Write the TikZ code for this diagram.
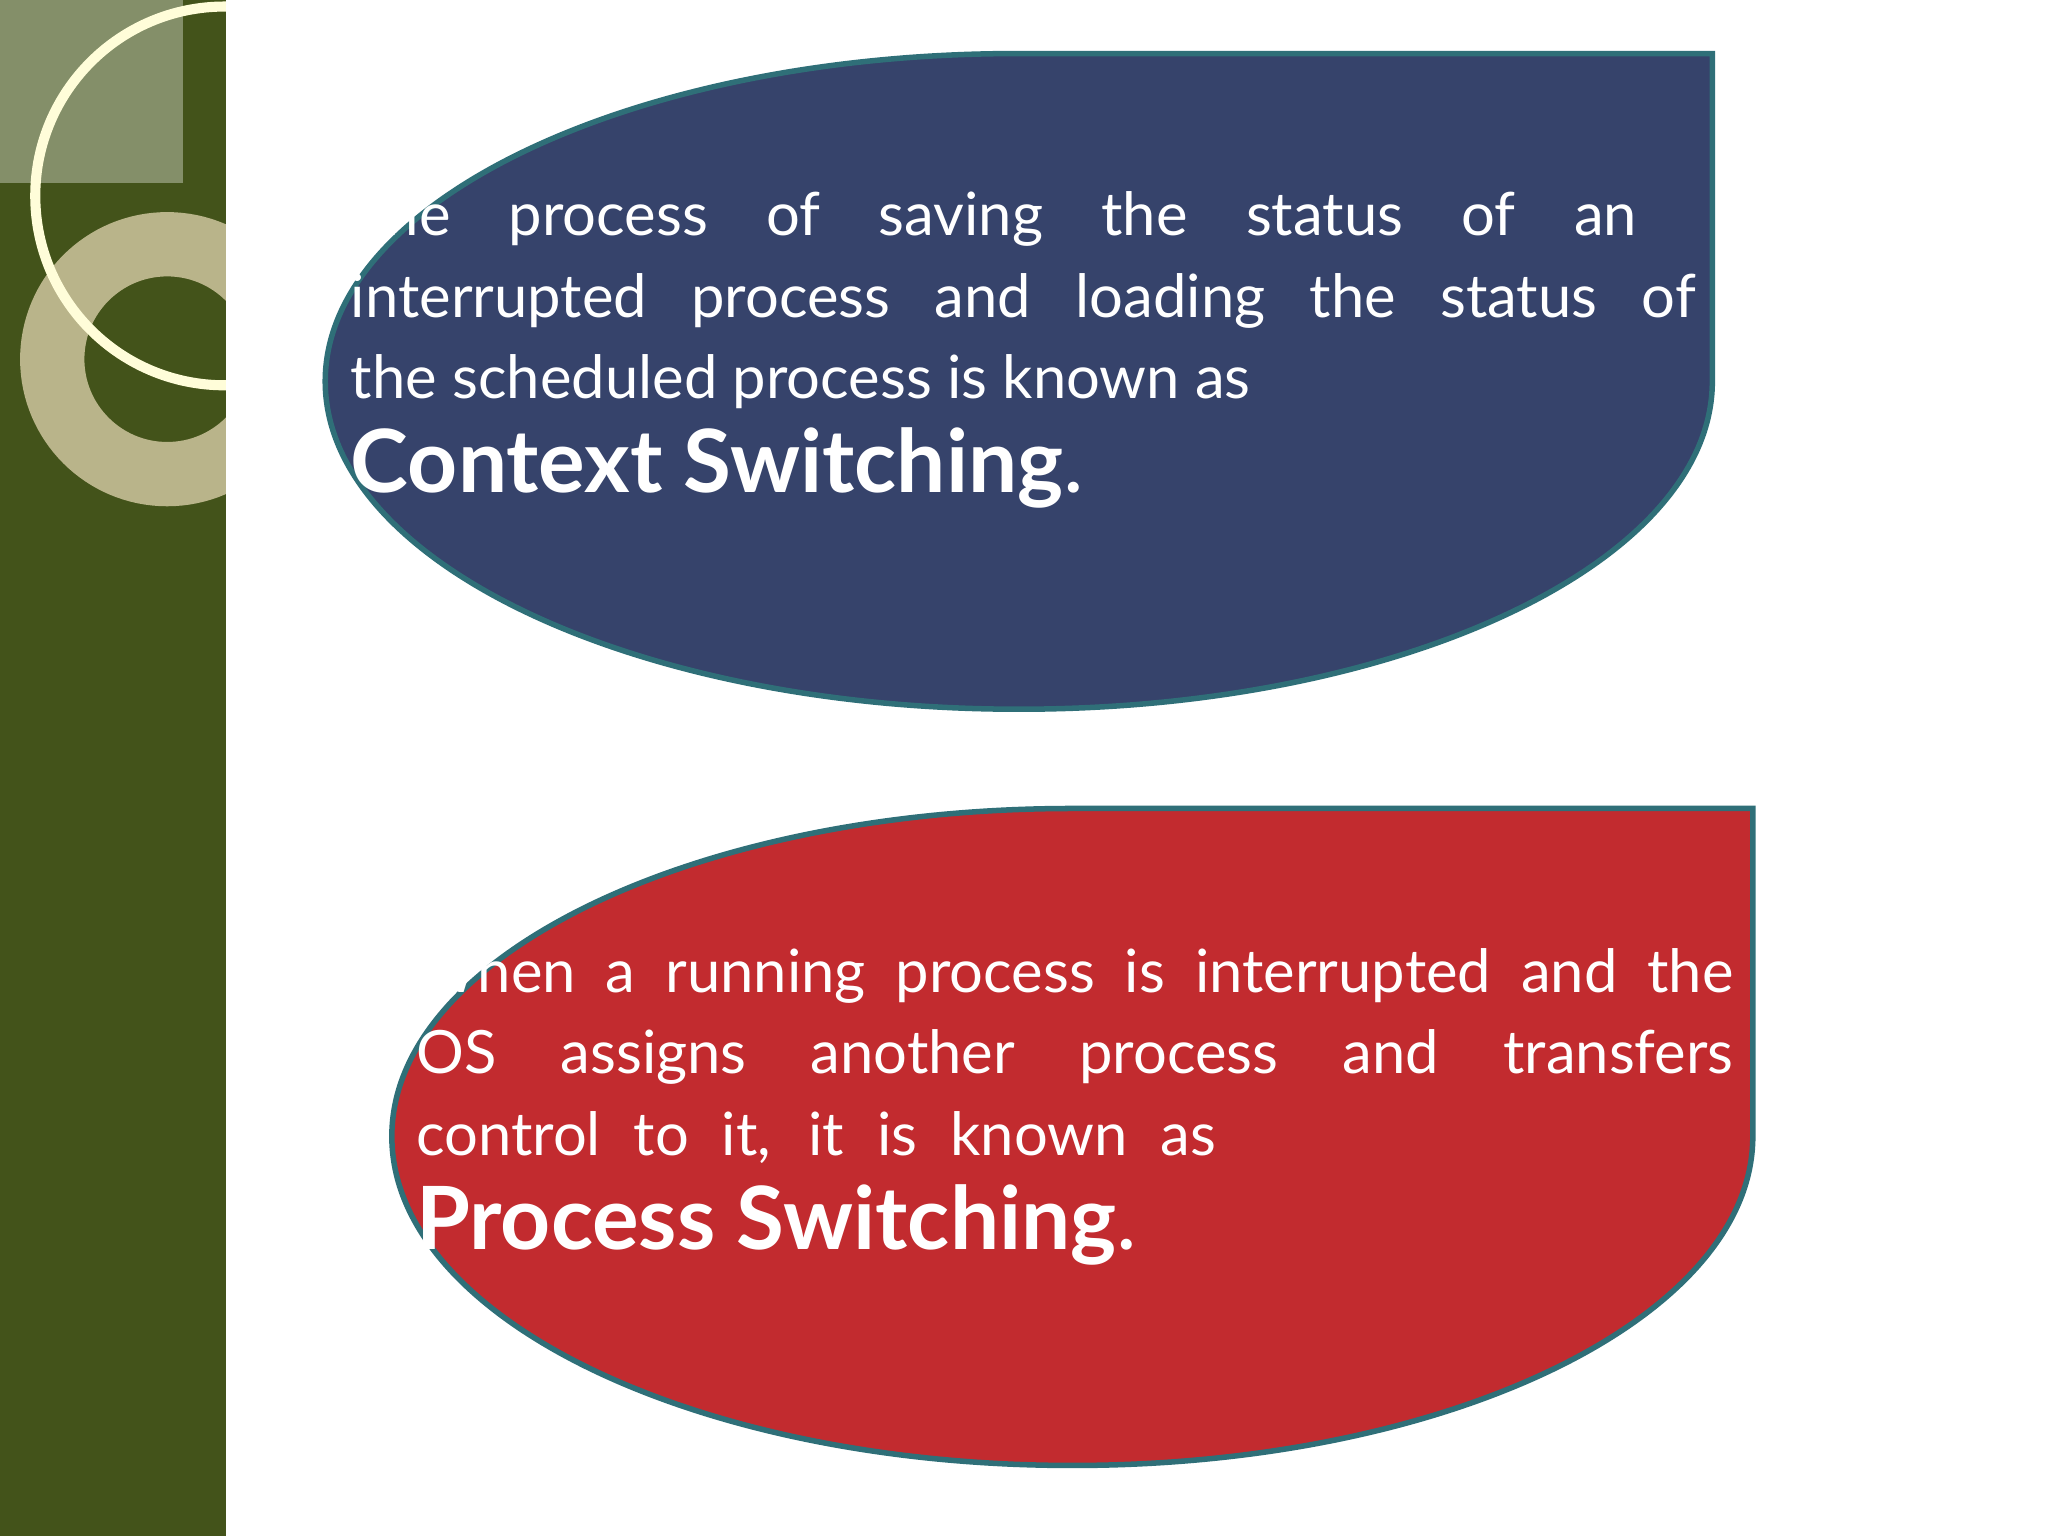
\documentclass[tikz,border=0pt]{standalone}
\usepackage{fontspec}
\setmainfont{Lato}
\definecolor{bar}{HTML}{43531A}
\definecolor{blu}{HTML}{36436B}
\definecolor{rd}{HTML}{C22B2F}
\definecolor{edg}{HTML}{2F6F78}
\definecolor{ring}{HTML}{B9B48A}
\begin{document}
\begin{tikzpicture}[x=0.01cm,y=-0.01cm,
  txt/.style={text=white,font=\fontsize{13}{15}\selectfont,anchor=base west,inner sep=0pt},
  big/.style={text=white,font=\fontsize{19}{22}\selectfont\bfseries,anchor=base west,inner sep=0pt},
  blob/.style={draw=edg,line width=1.2pt}]
\useasboundingbox (0,0) rectangle (1568,1176);
\fill[white] (0,0) rectangle (1568,1176);
\fill[bar] (0,0) rectangle (173,1176);
\begin{scope}
\clip (0,0) rectangle (173,1176);
\fill[white,opacity=0.35] (0,0) rectangle (140,140);
\draw[ring,line width=14pt] (128,275) circle (88);
\draw[white!85!yellow,line width=2.2pt] (172,150) circle (145);
\end{scope}
\fill[bar] (0,140) rectangle (1,141);
% blue shape
\draw[blob,fill=blu] (780,41) -- (1311,41) -- (1311,292)
  arc[start angle=0,end angle=-180,x radius=531,y radius=-251]
  arc[start angle=180,end angle=90,x radius=530,y radius=-251] -- cycle;
% red shape
\draw[blob,fill=rd] (822,619) -- (1342,619) -- (1342,870)
  arc[start angle=0,end angle=-180,x radius=521,y radius=-252]
  arc[start angle=180,end angle=90,x radius=521,y radius=-251] -- cycle;
\node[txt] (b1) at (268,180) {\makebox[9.84cm][s]{The process of saving the status of an}};
\node[txt] (b2) at (268,243) {\makebox[10.29cm][s]{interrupted process and loading the status of}};
\node[txt] (b3) at (268,305) {the scheduled process is known as};
\node[big] (b4) at (268,377) {Context Switching\mdseries.};
\node[txt] (r1) at (318,760) {\makebox[10.08cm][s]{When a running process is interrupted and the}};
\node[txt] (r2) at (318,822) {\makebox[10.08cm][s]{OS assigns another process and transfers}};
\node[txt] (r3) at (318,885) {\makebox[6.12cm][s]{control to it, it is known as}};
\node[big] (r4) at (318,957) {Process Switching\mdseries.};
\end{tikzpicture}
\end{document}
